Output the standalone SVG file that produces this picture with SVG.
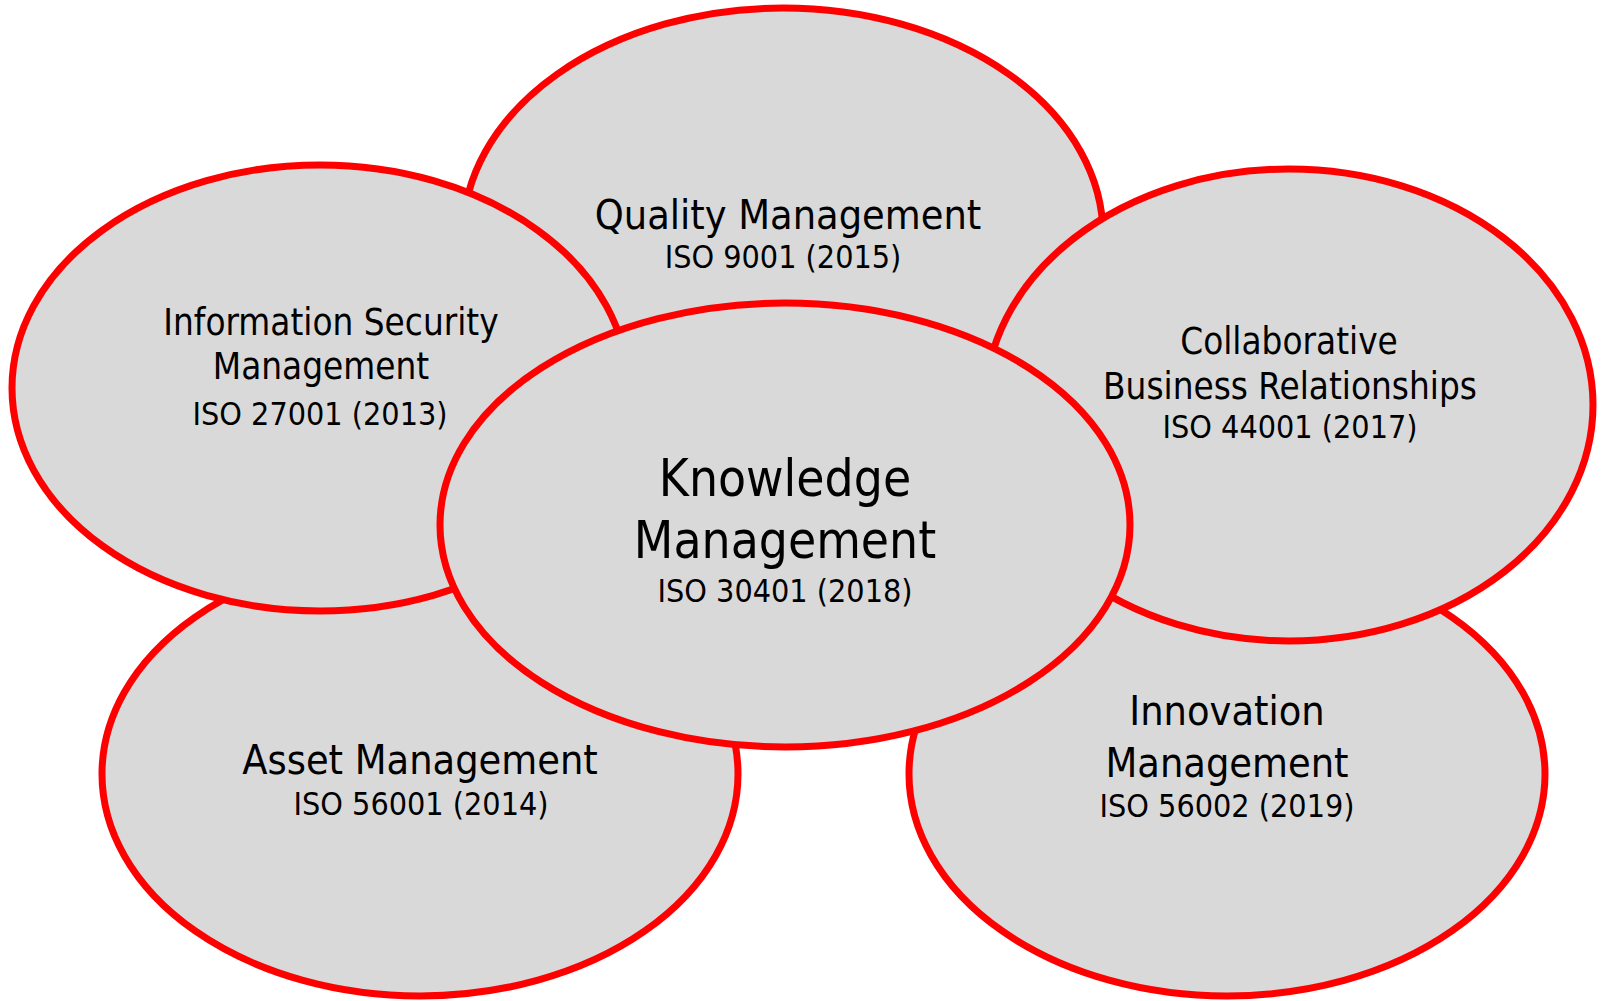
<svg xmlns="http://www.w3.org/2000/svg" width="1602" height="1001" viewBox="0 0 1602 1001">
<style>
.node ellipse{fill:#D9D9D9;stroke:#FF0000;stroke-width:7}
text{font-family:'DejaVu Sans Condensed','DejaVu Sans',sans-serif;fill:#000;text-anchor:middle;font-stretch:condensed}
.big{font-size:51px}
.med{font-size:41px}
.sm{font-size:36.5px}
.iso{font-size:32px}
</style>
<rect width="1602" height="1001" fill="#FFFFFF"/>
<g id="connectors"></g>
<g id="quality" class="node">
<ellipse cx="783" cy="235" rx="320" ry="227"/>
<text class="med" x="788" y="229">Quality Management</text>
<text class="iso" x="783" y="268">ISO 9001 (2015)</text>
</g>
<g id="asset" class="node">
<ellipse cx="420" cy="774" rx="318" ry="222"/>
<text class="med" x="420" y="774">Asset Management</text>
<text class="iso" x="421" y="815">ISO 56001 (2014)</text>
</g>
<g id="innovation" class="node">
<ellipse cx="1227" cy="774" rx="318" ry="222"/>
<text class="med" x="1227" y="725">Innovation</text>
<text class="med" x="1227" y="777">Management</text>
<text class="iso" x="1227" y="817">ISO 56002 (2019)</text>
</g>
<g id="infosec" class="node">
<ellipse cx="320" cy="388" rx="308" ry="223"/>
<text class="sm" x="331" y="335">Information Security</text>
<text class="sm" x="321" y="379">Management</text>
<text class="iso" x="320" y="425">ISO 27001 (2013)</text>
</g>
<g id="collab" class="node">
<ellipse cx="1289" cy="405" rx="304" ry="236"/>
<text class="sm" x="1289" y="354">Collaborative</text>
<text class="sm" x="1290" y="399">Business Relationships</text>
<text class="iso" x="1290" y="438">ISO 44001 (2017)</text>
</g>
<g id="knowledge" class="node">
<ellipse cx="785" cy="525" rx="345" ry="222"/>
<text class="big" x="785" y="496">Knowledge</text>
<text class="big" x="785" y="558">Management</text>
<text class="iso" x="785" y="602">ISO 30401 (2018)</text>
</g>
</svg>
